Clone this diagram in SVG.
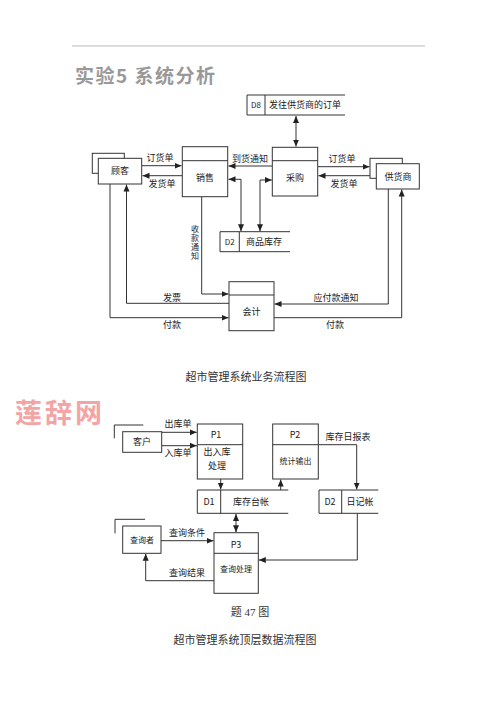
<svg xmlns="http://www.w3.org/2000/svg" width="500" height="708" viewBox="0 0 500 708">
<style>
.b{fill:#fff;stroke:#333;stroke-width:1}
.l,.a,.ab{fill:none;stroke:#333;stroke-width:1}
.t{font-family:"Noto Sans CJK SC","Liberation Sans",sans-serif;font-size:9px;fill:#222;text-anchor:middle}
.s{font-size:8px}
.cap{font-family:"Liberation Serif","Noto Sans CJK SC",serif;font-size:11px;fill:#333;text-anchor:middle}
.a{marker-end:url(#ah)}
.ab{marker-start:url(#ahs);marker-end:url(#ah)}
</style>
<defs>
<marker id="ah" markerWidth="8" markerHeight="8" refX="7" refY="4" orient="auto" markerUnits="userSpaceOnUse"><path d="M0,1 L7,4 L0,7 Z" fill="#222"/></marker>
<marker id="ahs" markerWidth="8" markerHeight="8" refX="1" refY="4" orient="auto" markerUnits="userSpaceOnUse"><path d="M8,1 L1,4 L8,7 Z" fill="#222"/></marker>
</defs>
<rect width="500" height="708" fill="#fff"/>
<line x1="72" y1="46" x2="425" y2="46" stroke="#bbb" stroke-width="1"/>
<text x="75" y="83" font-family="Noto Sans CJK SC,sans-serif" font-size="19" font-weight="bold" fill="#999" letter-spacing="1.5">实验5 系统分析</text>

<g id="connectors1">
<line class="ab" x1="296" y1="116" x2="296" y2="146.5"/>
<line class="a" x1="142" y1="165.7" x2="181.5" y2="165.7"/>
<line class="a" x1="182" y1="175.7" x2="142.5" y2="175.7"/>
<line class="a" x1="272" y1="166" x2="228.5" y2="166"/>
<polyline class="ab" points="228.5,179.3 241,179.3 241,231.2"/>
<polyline class="ab" points="260,231.2 260,180 271.8,180"/>
<line class="a" x1="318" y1="166.7" x2="369.5" y2="166.7"/>
<line class="a" x1="376" y1="175.7" x2="318.5" y2="175.7"/>
<polyline class="a" points="201.7,197 201.7,294 228.5,294"/>
<polyline class="a" points="229,303.3 126.5,303.3 126.5,184.5"/>
<polyline class="a" points="110,184 110,317.7 228.5,317.7"/>
<polyline class="a" points="388.3,189 388.3,304 274.5,304"/>
<polyline class="a" points="274,317.7 401.7,317.7 401.7,189.5"/>
<text class="t" x="160" y="161">订货单</text>
<text class="t" x="162" y="187">发货单</text>
<text class="t" x="250" y="162">到货通知</text>
<text class="t" x="342" y="162">订货单</text>
<text class="t" x="344" y="187">发货单</text>
<text class="t s" x="195" y="225" style="writing-mode:vertical-rl;text-anchor:start" letter-spacing="1">收款通知</text>
<text class="t" x="172" y="301">发票</text>
<text class="t" x="172" y="328">付款</text>
<text class="t" x="336" y="301">应付款通知</text>
<text class="t" x="335" y="328">付款</text>
</g>

<g id="D8">
<polyline class="l" points="345,95 247,95 247,115 345,115"/>
<line class="l" x1="265" y1="95" x2="265" y2="115"/>
<text class="t s" x="256" y="108">D8</text>
<text class="t" x="305" y="108">发往供货商的订单</text>
</g>
<g id="customer">
<rect class="b" x="92.3" y="153.3" width="32" height="20"/>
<rect class="b" x="98.3" y="158.3" width="43.4" height="25.7"/>
<text class="t" x="120" y="174">顾客</text>
</g>
<g id="sales">
<rect class="b" x="182.3" y="146.7" width="45.4" height="50"/>
<line class="l" x1="182.3" y1="160.7" x2="227.7" y2="160.7"/>
<text class="t" x="205" y="181">销售</text>
</g>
<g id="purchase">
<rect class="b" x="272.3" y="147.3" width="45.4" height="48.7"/>
<line class="l" x1="272.3" y1="160.7" x2="317.7" y2="160.7"/>
<text class="t" x="295" y="181">采购</text>
</g>
<g id="supplier">
<rect class="b" x="370" y="158.3" width="32.3" height="20"/>
<rect class="b" x="376.3" y="163.7" width="43" height="25.3"/>
<text class="t" x="398" y="180">供货商</text>
</g>
<g id="D2a">
<polyline class="l" points="290,231.7 220,231.7 220,251.7 290,251.7"/>
<line class="l" x1="239.3" y1="231.7" x2="239.3" y2="251.7"/>
<text class="t s" x="229.7" y="245">D2</text>
<text class="t" x="264" y="245">商品库存</text>
</g>
<g id="accounting">
<rect class="b" x="229" y="281.7" width="45" height="49"/>
<line class="l" x1="229" y1="295" x2="274" y2="295"/>
<text class="t" x="251.5" y="315">会计</text>
</g>
<text class="cap" x="246" y="381">超市管理系统业务流程图</text>

<text x="15" y="423" font-family="Noto Sans CJK SC,sans-serif" font-size="27" font-weight="bold" fill="#f3a5a5" letter-spacing="3">莲辞网</text>

<g id="connectors2">
<line class="a" x1="162" y1="432.3" x2="196.8" y2="432.3"/>
<line class="a" x1="162" y1="445.7" x2="196.8" y2="445.7"/>
<line class="a" x1="220.7" y1="479" x2="220.7" y2="489.5"/>
<line class="a" x1="280.7" y1="490" x2="280.7" y2="479.5"/>
<polyline class="a" points="318.3,444.7 356.7,444.7 356.7,489.5"/>
<line class="ab" x1="236" y1="514" x2="236" y2="532.2"/>
<line class="a" x1="161" y1="540.7" x2="213.5" y2="540.7"/>
<polyline class="a" points="214,580.7 145.7,580.7 145.7,553.8"/>
<polyline class="a" points="357.3,513.3 357.3,560 258.8,560"/>
<text class="t" x="178" y="427">出库单</text>
<text class="t" x="178" y="456">入库单</text>
<text class="t" x="348" y="440">库存日报表</text>
<text class="t" x="187" y="536">查询条件</text>
<text class="t" x="187" y="576">查询结果</text>
</g>
<g id="client">
<polyline class="l" points="114.3,438.3 114.3,425 143.3,425"/>
<rect class="b" x="122.7" y="431.7" width="39" height="20.6"/>
<text class="t" x="142" y="445">客户</text>
</g>
<g id="P1">
<rect class="b" x="197.3" y="424" width="45.4" height="55"/>
<line class="l" x1="197.3" y1="444.7" x2="242.7" y2="444.7"/>
<text class="t" x="216" y="438">P1</text>
<text class="t" x="217" y="455">出入库</text>
<text class="t" x="217" y="469">处理</text>
</g>
<g id="P2">
<rect class="b" x="272.7" y="424" width="45.6" height="55"/>
<line class="l" x1="272.7" y1="444.7" x2="318.3" y2="444.7"/>
<text class="t" x="295" y="438">P2</text>
<text class="t s" x="295.5" y="464">统计输出</text>
</g>
<g id="D1">
<polyline class="l" points="288.3,490 197.3,490 197.3,513.3 288.3,513.3"/>
<line class="l" x1="220.7" y1="490" x2="220.7" y2="513.3"/>
<text class="t" x="209" y="505">D1</text>
<text class="t" x="251" y="505">库存台帐</text>
</g>
<g id="D2b">
<polyline class="l" points="378.3,490 319,490 319,513.3 378.3,513.3"/>
<line class="l" x1="341.7" y1="490" x2="341.7" y2="513.3"/>
<text class="t" x="330" y="505">D2</text>
<text class="t" x="360" y="505">日记帐</text>
</g>
<g id="querier">
<polyline class="l" points="115,533.3 115,519.3 145,519.3"/>
<rect class="b" x="122.7" y="526" width="38.3" height="27.3"/>
<text class="t s" x="142" y="543">查询者</text>
</g>
<g id="P3">
<rect class="b" x="214" y="532.7" width="44.3" height="60.6"/>
<line class="l" x1="214" y1="553.3" x2="258.3" y2="553.3"/>
<text class="t" x="236" y="548">P3</text>
<text class="t s" x="236" y="572">查询处理</text>
</g>
<text class="cap" x="250" y="616">题 47 图</text>
<text class="cap" x="245" y="644">超市管理系统顶层数据流程图</text>
</svg>
